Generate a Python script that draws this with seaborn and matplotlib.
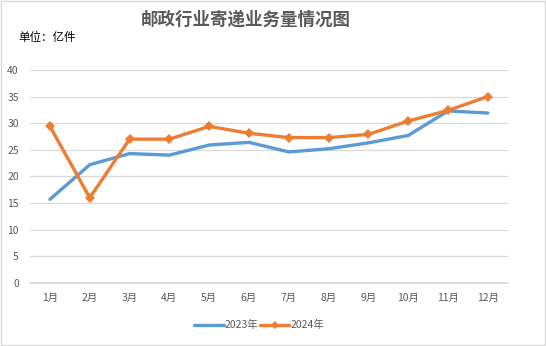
import matplotlib
matplotlib.use("Agg")
import matplotlib.pyplot as plt
import seaborn as sns
import pandas as pd
from matplotlib.lines import Line2D

months = ["1月", "2月", "3月", "4月", "5月", "6月", "7月", "8月", "9月", "10月", "11月", "12月"]
v2023 = [15.7, 22.2, 24.3, 24.0, 25.9, 26.4, 24.6, 25.2, 26.3, 27.7, 32.3, 31.9]
v2024 = [29.4, 16.0, 27.0, 27.0, 29.4, 28.1, 27.3, 27.3, 27.9, 30.4, 32.4, 35.0]
series = ["2023年", "2024年"]
yticks = [0, 5, 10, 15, 20, 25, 30, 35, 40]

sns.set_theme(style="white")
plt.rcParams['font.family'] = ['Noto Sans CJK SC', 'DejaVu Sans']

xs = list(range(len(months)))
df23 = pd.DataFrame({"x": xs, "value": v2023})
df24 = pd.DataFrame({"x": xs, "value": v2024})

fig = plt.figure(figsize=(5.46, 3.46), dpi=100)
ax = fig.add_axes([0.055, 0.182, 0.875, 0.616])

sns.lineplot(data=df23, x="x", y="value", color="#5B9BD5", linewidth=2.4, ax=ax)
sns.lineplot(data=df24, x="x", y="value", color="#ED7D31", linewidth=2.4,
             marker="D", markersize=5, markeredgewidth=0, ax=ax)

ax.set_xlim(-0.5, len(months) - 0.5)
ax.set_ylim(0, 40)
ax.set_yticks(yticks)
ax.set_xticks(xs)
ax.set_xticklabels(months)
ax.set_xlabel("")
ax.set_ylabel("")
ax.grid(axis="y", color="#D9D9D9", linewidth=0.9)
ax.set_axisbelow(True)
for s in ["top", "right", "left"]:
    ax.spines[s].set_visible(False)
ax.spines["bottom"].set_color("#D9D9D9")
ax.tick_params(axis="both", length=0, labelsize=7.5, colors="#595959")
ax.tick_params(axis="y", pad=8)
ax.tick_params(axis="x", pad=7)

handles = [Line2D([], [], color="#5B9BD5", lw=2.4),
           Line2D([], [], color="#ED7D31", lw=2.4, marker="D", markersize=4.5, markeredgewidth=0)]
fig.legend(handles, series, loc="center", bbox_to_anchor=(0.475, 0.06), ncol=2,
           frameon=False, fontsize=7.5, labelcolor="#595959", handlelength=2.8,
           columnspacing=0.2, handletextpad=0.1)

fig.text(0.451, 0.942, "邮政行业寄递业务量情况图", ha="center", va="center",
         fontsize=12.6, fontweight="bold", color="#595959")
fig.text(0.033, 0.893, "单位：亿件", ha="left", va="center", fontsize=8.3, color="#000000")

fig.patches.append(plt.Rectangle((0.002, 0.003), 0.996, 0.994, transform=fig.transFigure,
                                 fill=False, edgecolor="#D9D9D9", linewidth=1))

fig.savefig("out.png", dpi=100)
